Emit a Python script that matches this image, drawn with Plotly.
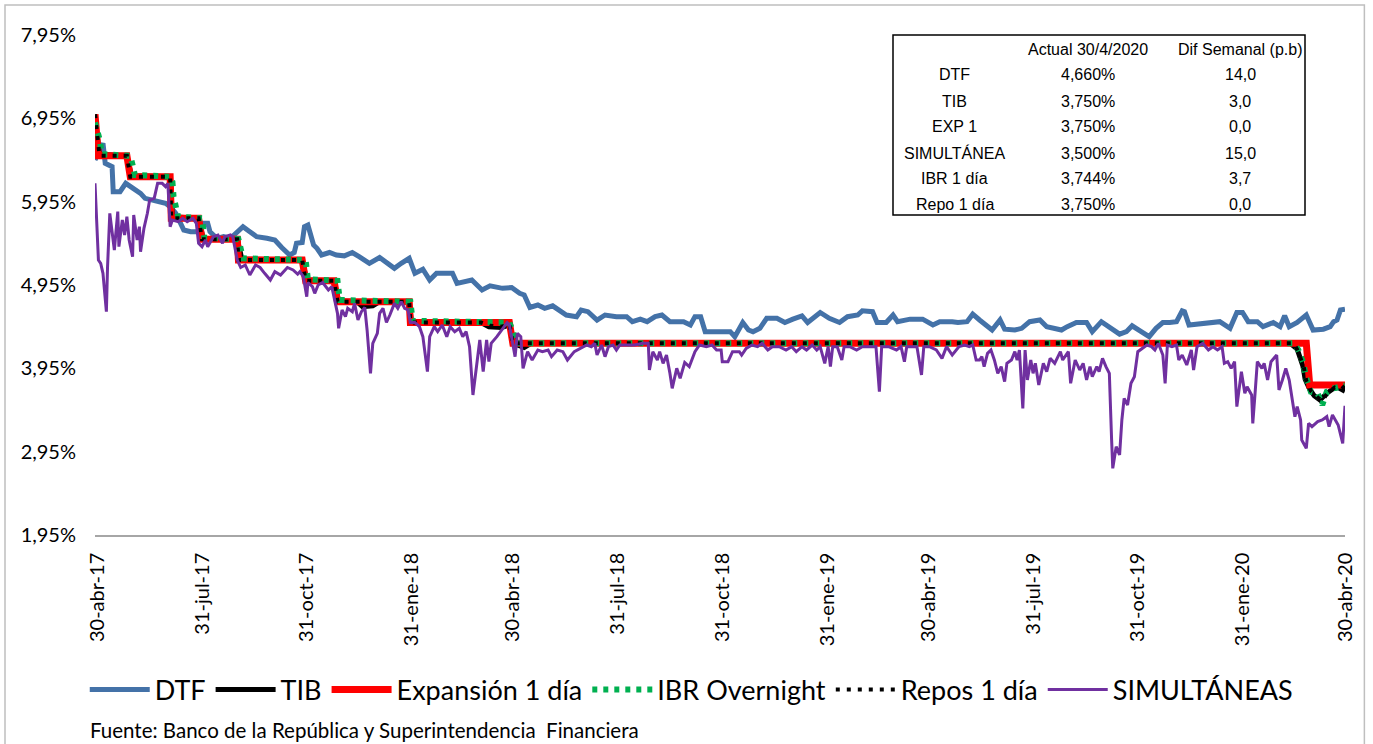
import plotly.graph_objects as go

# --- data (tasas en %) ---

# Expansión 1 día (tasa de política), cambios escalonados
EXP = [("2017-04-28", 7.00), ("2017-05-01", 6.50), ("2017-05-26", 6.50), ("2017-05-29", 6.25),
       ("2017-07-03", 6.25), ("2017-07-04", 5.75), ("2017-07-28", 5.75), ("2017-07-31", 5.50),
       ("2017-08-31", 5.50), ("2017-09-01", 5.25), ("2017-10-27", 5.25), ("2017-10-30", 5.00),
       ("2017-11-24", 5.00), ("2017-11-27", 4.75), ("2018-01-29", 4.75), ("2018-01-30", 4.50),
       ("2018-04-27", 4.50), ("2018-04-30", 4.25), ("2020-03-27", 4.25), ("2020-03-30", 3.75),
       ("2020-04-30", 3.75)]

TIB = [("2017-04-28", 6.95), ("2017-05-02", 6.52), ("2017-05-26", 6.50), ("2017-05-30", 6.26),
       ("2017-07-03", 6.25), ("2017-07-05", 5.77), ("2017-07-28", 5.75), ("2017-08-01", 5.51),
       ("2017-08-31", 5.50), ("2017-09-04", 5.26), ("2017-10-27", 5.25), ("2017-10-31", 5.01),
       ("2017-11-24", 5.00), ("2017-11-28", 4.76), ("2017-12-14", 4.75), ("2017-12-19", 4.69),
       ("2017-12-28", 4.70), ("2018-01-03", 4.75), ("2018-01-29", 4.74), ("2018-01-31", 4.51),
       ("2018-04-02", 4.50), ("2018-04-09", 4.45), ("2018-04-20", 4.44), ("2018-04-27", 4.47),
       ("2018-05-02", 4.24), ("2018-05-10", 4.20), ("2018-05-16", 4.25), ("2020-03-13", 4.25),
       ("2020-03-19", 4.18), ("2020-03-24", 3.98), ("2020-03-26", 3.82), ("2020-03-30", 3.70),
       ("2020-04-03", 3.62), ("2020-04-08", 3.57), ("2020-04-14", 3.65), ("2020-04-20", 3.71),
       ("2020-04-24", 3.72), ("2020-04-28", 3.69), ("2020-04-30", 3.75)]

IBR = [("2017-04-28", 6.90), ("2017-05-02", 6.70), ("2017-05-04", 6.52), ("2017-05-29", 6.50),
       ("2017-05-31", 6.39), ("2017-06-02", 6.27), ("2017-07-03", 6.25), ("2017-07-05", 6.19),
       ("2017-07-06", 6.01), ("2017-07-10", 5.77), ("2017-07-31", 5.75), ("2017-08-02", 5.52),
       ("2017-09-01", 5.50), ("2017-09-05", 5.27), ("2017-10-30", 5.25), ("2017-11-01", 5.02),
       ("2017-11-27", 5.00), ("2017-11-29", 4.77), ("2018-01-30", 4.75), ("2018-02-01", 4.52),
       ("2018-04-27", 4.50), ("2018-05-02", 4.30), ("2018-05-04", 4.25), ("2020-03-16", 4.25),
       ("2020-03-20", 4.17), ("2020-03-24", 4.03), ("2020-03-27", 3.83), ("2020-03-31", 3.67),
       ("2020-04-06", 3.65), ("2020-04-10", 3.51), ("2020-04-14", 3.67), ("2020-04-20", 3.71),
       ("2020-04-26", 3.74), ("2020-04-30", 3.744)]

REPOS = [("2017-04-28", 7.00), ("2017-05-02", 6.50), ("2017-05-26", 6.50), ("2017-05-29", 6.25),
         ("2017-07-03", 6.25), ("2017-07-04", 5.75), ("2017-07-28", 5.75), ("2017-07-31", 5.50),
         ("2017-08-31", 5.50), ("2017-09-01", 5.25), ("2017-10-27", 5.25), ("2017-10-30", 5.00),
         ("2017-11-24", 5.00), ("2017-11-27", 4.75), ("2018-01-29", 4.75), ("2018-01-30", 4.50),
         ("2018-04-02", 4.50), ("2018-04-10", 4.46), ("2018-04-20", 4.45), ("2018-04-27", 4.48),
         ("2018-04-30", 4.25), ("2020-03-16", 4.25), ("2020-03-20", 4.15), ("2020-03-25", 3.95),
         ("2020-03-27", 3.80), ("2020-03-31", 3.68), ("2020-04-06", 3.60), ("2020-04-10", 3.56),
         ("2020-04-15", 3.66), ("2020-04-21", 3.72), ("2020-04-27", 3.70), ("2020-04-30", 3.74)]

DTF = [("2017-04-28", 6.45), ("2017-05-05", 6.65), ("2017-05-07", 6.41), ("2017-05-13", 6.37),
       ("2017-05-14", 6.07), ("2017-05-20", 6.07), ("2017-05-25", 6.17), ("2017-05-31", 6.11),
       ("2017-06-07", 6.05), ("2017-06-11", 5.99), ("2017-06-18", 5.97), ("2017-06-23", 5.95),
       ("2017-06-29", 5.93), ("2017-07-03", 5.89), ("2017-07-08", 5.81), ("2017-07-15", 5.61),
       ("2017-07-21", 5.59), ("2017-07-27", 5.59), ("2017-07-31", 5.69), ("2017-08-05", 5.69),
       ("2017-08-07", 5.59), ("2017-08-13", 5.51), ("2017-08-19", 5.53), ("2017-08-25", 5.51),
       ("2017-09-01", 5.61), ("2017-09-05", 5.65), ("2017-09-11", 5.59), ("2017-09-17", 5.53),
       ("2017-09-26", 5.51), ("2017-10-03", 5.49), ("2017-10-09", 5.40), ("2017-10-16", 5.31),
       ("2017-10-20", 5.34), ("2017-10-22", 5.45), ("2017-10-27", 5.46), ("2017-10-29", 5.65),
       ("2017-11-01", 5.67), ("2017-11-06", 5.43), ("2017-11-09", 5.39), ("2017-11-13", 5.31),
       ("2017-11-20", 5.34), ("2017-11-26", 5.31), ("2017-12-03", 5.30), ("2017-12-10", 5.34),
       ("2017-12-16", 5.29), ("2017-12-25", 5.21), ("2018-01-03", 5.28), ("2018-01-10", 5.21),
       ("2018-01-16", 5.15), ("2018-01-22", 5.21), ("2018-01-29", 5.27), ("2018-02-03", 5.09),
       ("2018-02-10", 5.14), ("2018-02-16", 5.01), ("2018-02-22", 5.09), ("2018-03-08", 5.09),
       ("2018-03-12", 4.97), ("2018-03-25", 5.01), ("2018-04-03", 4.89), ("2018-04-10", 4.94),
       ("2018-04-21", 4.91), ("2018-04-29", 4.92), ("2018-05-06", 4.85), ("2018-05-10", 4.83),
       ("2018-05-15", 4.68), ("2018-05-22", 4.71), ("2018-05-28", 4.67), ("2018-06-04", 4.70),
       ("2018-06-10", 4.65), ("2018-06-16", 4.59), ("2018-06-25", 4.57), ("2018-06-29", 4.65),
       ("2018-07-05", 4.63), ("2018-07-13", 4.53), ("2018-07-20", 4.59), ("2018-07-30", 4.57),
       ("2018-08-08", 4.57), ("2018-08-13", 4.51), ("2018-08-20", 4.54), ("2018-08-26", 4.51),
       ("2018-09-02", 4.57), ("2018-09-08", 4.59), ("2018-09-15", 4.51), ("2018-09-27", 4.51),
       ("2018-10-03", 4.47), ("2018-10-07", 4.57), ("2018-10-12", 4.57), ("2018-10-16", 4.39),
       ("2018-10-27", 4.39), ("2018-11-07", 4.39), ("2018-11-11", 4.33), ("2018-11-18", 4.50),
       ("2018-11-23", 4.41), ("2018-11-27", 4.39), ("2018-12-03", 4.43), ("2018-12-09", 4.55),
       ("2018-12-18", 4.55), ("2018-12-25", 4.50), ("2019-01-01", 4.54), ("2019-01-09", 4.58),
       ("2019-01-14", 4.50), ("2019-01-25", 4.62), ("2019-02-02", 4.55), ("2019-02-11", 4.50),
       ("2019-02-18", 4.57), ("2019-02-27", 4.59), ("2019-03-03", 4.64), ("2019-03-12", 4.63),
       ("2019-03-16", 4.50), ("2019-03-24", 4.50), ("2019-03-30", 4.59), ("2019-04-03", 4.51),
       ("2019-04-14", 4.54), ("2019-04-25", 4.54), ("2019-05-04", 4.47), ("2019-05-10", 4.51),
       ("2019-05-21", 4.51), ("2019-05-26", 4.50), ("2019-06-03", 4.51), ("2019-06-08", 4.60),
       ("2019-06-14", 4.53), ("2019-06-25", 4.41), ("2019-07-02", 4.53), ("2019-07-06", 4.42),
       ("2019-07-15", 4.41), ("2019-07-21", 4.43), ("2019-07-28", 4.51), ("2019-08-06", 4.53),
       ("2019-08-12", 4.45), ("2019-08-25", 4.41), ("2019-08-30", 4.45), ("2019-09-07", 4.50),
       ("2019-09-16", 4.50), ("2019-09-21", 4.39), ("2019-09-29", 4.51), ("2019-10-05", 4.45),
       ("2019-10-15", 4.36), ("2019-10-21", 4.39), ("2019-10-26", 4.46), ("2019-11-03", 4.39),
       ("2019-11-10", 4.33), ("2019-11-16", 4.43), ("2019-11-22", 4.50), ("2019-11-28", 4.50),
       ("2019-12-04", 4.51), ("2019-12-09", 4.64), ("2019-12-11", 4.63), ("2019-12-15", 4.47),
       ("2019-12-24", 4.48), ("2020-01-02", 4.50), ("2020-01-11", 4.51), ("2020-01-20", 4.43),
       ("2020-01-26", 4.62), ("2020-01-31", 4.62), ("2020-02-05", 4.51), ("2020-02-13", 4.51),
       ("2020-02-18", 4.45), ("2020-02-27", 4.50), ("2020-03-04", 4.45), ("2020-03-08", 4.58),
       ("2020-03-12", 4.45), ("2020-03-19", 4.50), ("2020-03-27", 4.59), ("2020-04-02", 4.41),
       ("2020-04-11", 4.42), ("2020-04-17", 4.45), ("2020-04-20", 4.51), ("2020-04-23", 4.53),
       ("2020-04-26", 4.65), ("2020-04-30", 4.66)]

SIMUL = [("2017-04-28", 6.17), ("2017-05-01", 5.25), ("2017-05-03", 5.21), ("2017-05-05", 5.09),
         ("2017-05-08", 4.63), ("2017-05-09", 5.16), ("2017-05-11", 5.81), ("2017-05-14", 5.49),
         ("2017-05-15", 5.37), ("2017-05-18", 5.83), ("2017-05-19", 5.41), ("2017-05-22", 5.73),
         ("2017-05-24", 5.55), ("2017-05-26", 5.77), ("2017-05-28", 5.49), ("2017-05-31", 5.29),
         ("2017-06-01", 5.79), ("2017-06-04", 5.49), ("2017-06-06", 5.65), ("2017-06-07", 5.35),
         ("2017-06-10", 5.63), ("2017-06-13", 5.81), ("2017-06-15", 5.97), ("2017-06-19", 5.99),
         ("2017-06-22", 6.17), ("2017-06-26", 6.17), ("2017-06-29", 6.13), ("2017-07-01", 6.17),
         ("2017-07-03", 5.65), ("2017-07-05", 5.73), ("2017-07-10", 5.71), ("2017-07-14", 5.75),
         ("2017-07-18", 5.71), ("2017-07-23", 5.75), ("2017-07-26", 5.69), ("2017-07-28", 5.45),
         ("2017-07-31", 5.41), ("2017-08-03", 5.49), ("2017-08-05", 5.41), ("2017-08-10", 5.53),
         ("2017-08-14", 5.55), ("2017-08-18", 5.45), ("2017-08-20", 5.53), ("2017-08-25", 5.55),
         ("2017-08-27", 5.53), ("2017-08-31", 5.25), ("2017-09-03", 5.16), ("2017-09-07", 5.19),
         ("2017-09-11", 5.07), ("2017-09-16", 5.19), ("2017-09-20", 5.16), ("2017-09-24", 5.09),
         ("2017-09-29", 5.01), ("2017-10-03", 5.11), ("2017-10-08", 5.07), ("2017-10-14", 5.16),
         ("2017-10-19", 5.13), ("2017-10-23", 5.08), ("2017-10-25", 5.11), ("2017-10-28", 5.05),
         ("2017-10-31", 4.81), ("2017-11-01", 4.98), ("2017-11-05", 4.93), ("2017-11-07", 4.85),
         ("2017-11-10", 4.95), ("2017-11-14", 4.98), ("2017-11-19", 4.89), ("2017-11-22", 4.93),
         ("2017-11-24", 4.81), ("2017-11-27", 4.61), ("2017-11-28", 4.43), ("2017-12-01", 4.65),
         ("2017-12-04", 4.57), ("2017-12-06", 4.67), ("2017-12-10", 4.63), ("2017-12-12", 4.73),
         ("2017-12-15", 4.53), ("2017-12-18", 4.63), ("2017-12-21", 4.68), ("2017-12-23", 4.41),
         ("2017-12-26", 3.89), ("2017-12-28", 4.25), ("2018-01-01", 4.37), ("2018-01-03", 4.61),
         ("2018-01-06", 4.67), ("2018-01-09", 4.50), ("2018-01-12", 4.59), ("2018-01-16", 4.73),
         ("2018-01-19", 4.67), ("2018-01-22", 4.75), ("2018-01-25", 4.67), ("2018-01-28", 4.65),
         ("2018-01-30", 4.50), ("2018-02-03", 4.50), ("2018-02-07", 4.45), ("2018-02-10", 4.33),
         ("2018-02-14", 3.91), ("2018-02-16", 4.33), ("2018-02-20", 4.45), ("2018-02-23", 4.39),
         ("2018-02-27", 4.47), ("2018-03-03", 4.33), ("2018-03-06", 4.45), ("2018-03-10", 4.39),
         ("2018-03-14", 4.43), ("2018-03-17", 4.33), ("2018-03-20", 4.39), ("2018-03-23", 4.21),
         ("2018-03-26", 3.63), ("2018-03-29", 3.97), ("2018-04-01", 4.29), ("2018-04-04", 3.91),
         ("2018-04-07", 4.29), ("2018-04-09", 4.03), ("2018-04-11", 4.25), ("2018-04-16", 4.33),
         ("2018-04-20", 4.41), ("2018-04-25", 4.50), ("2018-04-27", 4.47), ("2018-04-30", 4.23),
         ("2018-05-02", 4.09), ("2018-05-04", 4.37), ("2018-05-07", 4.33), ("2018-05-09", 3.95),
         ("2018-05-13", 4.15), ("2018-05-17", 4.05), ("2018-05-22", 4.17), ("2018-05-26", 4.15),
         ("2018-05-31", 4.17), ("2018-06-03", 4.09), ("2018-06-08", 4.17), ("2018-06-13", 4.15),
         ("2018-06-17", 4.05), ("2018-06-23", 4.15), ("2018-06-29", 4.19), ("2018-07-04", 4.23),
         ("2018-07-08", 4.21), ("2018-07-11", 4.25), ("2018-07-13", 4.11), ("2018-07-17", 4.23),
         ("2018-07-20", 4.09), ("2018-07-23", 4.21), ("2018-07-27", 4.23), ("2018-07-30", 4.17),
         ("2018-08-02", 4.23), ("2018-08-08", 4.23), ("2018-08-15", 4.23), ("2018-08-22", 4.25),
         ("2018-08-27", 4.25), ("2018-08-28", 3.93), ("2018-08-31", 4.15), ("2018-09-04", 4.05),
         ("2018-09-06", 4.15), ("2018-09-09", 4.01), ("2018-09-12", 4.11), ("2018-09-15", 3.89),
         ("2018-09-17", 3.71), ("2018-09-21", 3.95), ("2018-09-24", 3.83), ("2018-09-28", 4.02),
         ("2018-10-02", 3.97), ("2018-10-07", 4.15), ("2018-10-11", 4.23), ("2018-10-17", 4.21),
         ("2018-10-22", 4.23), ("2018-10-26", 4.17), ("2018-10-30", 4.17), ("2018-10-31", 4.03),
         ("2018-11-05", 4.03), ("2018-11-09", 4.15), ("2018-11-15", 4.15), ("2018-11-17", 4.11),
         ("2018-11-21", 4.19), ("2018-11-26", 4.23), ("2018-12-01", 4.21), ("2018-12-05", 4.25),
         ("2018-12-10", 4.17), ("2018-12-14", 4.21), ("2018-12-20", 4.21), ("2018-12-26", 4.17),
         ("2018-12-31", 4.21), ("2019-01-04", 4.15), ("2019-01-09", 4.21), ("2019-01-13", 4.17),
         ("2019-01-18", 4.23), ("2019-01-22", 4.17), ("2019-01-25", 4.21), ("2019-01-29", 4.01),
         ("2019-02-01", 4.21), ("2019-02-03", 3.97), ("2019-02-05", 4.21), ("2019-02-09", 4.21),
         ("2019-02-13", 4.05), ("2019-02-15", 4.21), ("2019-02-20", 4.21), ("2019-02-26", 4.17),
         ("2019-03-03", 4.21), ("2019-03-09", 4.21), ("2019-03-15", 4.21), ("2019-03-18", 3.67),
         ("2019-03-20", 4.21), ("2019-03-26", 4.21), ("2019-04-02", 4.17), ("2019-04-06", 4.21),
         ("2019-04-09", 4.03), ("2019-04-11", 4.21), ("2019-04-17", 4.21), ("2019-04-20", 4.21),
         ("2019-04-24", 3.87), ("2019-04-26", 4.21), ("2019-05-01", 4.21), ("2019-05-07", 4.17),
         ("2019-05-12", 4.07), ("2019-05-16", 4.21), ("2019-05-21", 4.11), ("2019-05-27", 4.21),
         ("2019-06-01", 4.23), ("2019-06-05", 4.21), ("2019-06-08", 4.23), ("2019-06-11", 4.05),
         ("2019-06-14", 4.05), ("2019-06-16", 4.09), ("2019-06-18", 3.97), ("2019-06-21", 4.13),
         ("2019-06-24", 4.17), ("2019-06-27", 4.05), ("2019-06-30", 3.89), ("2019-07-03", 3.97),
         ("2019-07-06", 3.79), ("2019-07-08", 4.01), ("2019-07-12", 4.05), ("2019-07-15", 4.15),
         ("2019-07-17", 4.05), ("2019-07-19", 4.17), ("2019-07-22", 3.47), ("2019-07-24", 4.17),
         ("2019-07-26", 3.81), ("2019-07-29", 4.05), ("2019-07-31", 3.89), ("2019-08-02", 4.01),
         ("2019-08-05", 3.75), ("2019-08-09", 4.01), ("2019-08-12", 3.91), ("2019-08-15", 4.07),
         ("2019-08-19", 4.01), ("2019-08-24", 4.15), ("2019-08-26", 4.05), ("2019-08-31", 4.15),
         ("2019-09-02", 3.77), ("2019-09-06", 4.05), ("2019-09-10", 3.93), ("2019-09-13", 4.01),
         ("2019-09-16", 3.81), ("2019-09-19", 3.97), ("2019-09-21", 3.85), ("2019-09-25", 3.97),
         ("2019-09-27", 3.91), ("2019-09-30", 4.07), ("2019-10-03", 3.97), ("2019-10-06", 3.89),
         ("2019-10-08", 3.09), ("2019-10-09", 2.75), ("2019-10-12", 3.01), ("2019-10-15", 2.91),
         ("2019-10-17", 3.33), ("2019-10-19", 3.59), ("2019-10-22", 3.51), ("2019-10-25", 3.77),
         ("2019-10-28", 3.85), ("2019-10-31", 4.15), ("2019-11-08", 4.23), ("2019-11-12", 4.21),
         ("2019-11-15", 4.17), ("2019-11-18", 4.25), ("2019-11-22", 4.11), ("2019-11-24", 3.77),
         ("2019-11-26", 4.23), ("2019-11-30", 4.21), ("2019-12-04", 4.23), ("2019-12-06", 4.05),
         ("2019-12-09", 4.11), ("2019-12-13", 3.99), ("2019-12-17", 4.17), ("2019-12-19", 3.93),
         ("2019-12-22", 4.21), ("2019-12-27", 4.25), ("2020-01-01", 4.17), ("2020-01-05", 4.21),
         ("2020-01-09", 4.17), ("2020-01-13", 4.21), ("2020-01-15", 4.01), ("2020-01-18", 4.03),
         ("2020-01-21", 3.95), ("2020-01-24", 4.03), ("2020-01-26", 3.49), ("2020-01-30", 3.91),
         ("2020-02-02", 3.65), ("2020-02-04", 3.73), ("2020-02-08", 3.63), ("2020-02-09", 3.29),
         ("2020-02-11", 3.65), ("2020-02-13", 4.03), ("2020-02-17", 3.95), ("2020-02-19", 4.01),
         ("2020-02-22", 3.81), ("2020-02-25", 4.03), ("2020-03-01", 4.11), ("2020-03-03", 3.69),
         ("2020-03-06", 3.81), ("2020-03-09", 3.95), ("2020-03-12", 3.81), ("2020-03-14", 3.63),
         ("2020-03-17", 3.37), ("2020-03-19", 3.49), ("2020-03-22", 3.33), ("2020-03-23", 3.09),
         ("2020-03-27", 2.99), ("2020-03-29", 3.29), ("2020-04-01", 3.25), ("2020-04-06", 3.31),
         ("2020-04-10", 3.33), ("2020-04-14", 3.37), ("2020-04-16", 3.25), ("2020-04-19", 3.39),
         ("2020-04-22", 3.31), ("2020-04-24", 3.27), ("2020-04-28", 3.05), ("2020-04-30", 3.50)]

# eje x
tick_dates = ["2017-04-30", "2017-07-31", "2017-10-31", "2018-01-31", "2018-04-30", "2018-07-31",
              "2018-10-31", "2019-01-31", "2019-04-30", "2019-07-31", "2019-10-31", "2020-01-31",
              "2020-04-30"]
tick_labels = ["30-abr-17", "31-jul-17", "31-oct-17", "31-ene-18", "30-abr-18", "31-jul-18",
               "31-oct-18", "31-ene-19", "30-abr-19", "31-jul-19", "31-oct-19", "31-ene-20",
               "30-abr-20"]

# tabla resumen
table_names = ["DTF", "TIB", "EXP 1", "SIMULTÁNEA", "IBR 1 día", "Repo 1 día"]
table_actual = ["4,660%", "3,750%", "3,750%", "3,500%", "3,744%", "3,750%"]
table_dif = ["14,0", "3,0", "0,0", "15,0", "3,7", "0,0"]

FONT = "Lato, Carlito, Noto Sans, sans-serif"
NARROW = "Liberation Sans Narrow, Arial Narrow, Liberation Sans, sans-serif"


def xy(pairs):
    return [p[0] for p in pairs], [p[1] for p in pairs]


fig = go.Figure()

series = [
    ("DTF", DTF, dict(color="#4472A8", width=5)),
    ("TIB", TIB, dict(color="#000000", width=5)),
    ("Expansión 1 día", EXP, dict(color="#FF0000", width=7)),
    ("IBR Overnight", IBR, dict(color="#00B050", width=6, dash="5px,6px")),
    ("Repos 1 día", REPOS, dict(color="#000000", width=4, dash="4px,7px")),
    ("SIMULTÁNEAS", SIMUL, dict(color="#7030A0", width=3)),
]
for name, pairs, line in series:
    x, y = xy(pairs)
    fig.add_trace(go.Scatter(x=x, y=y, mode="lines", name=name, line=line))

# tabla en la esquina superior derecha
fig.add_shape(type="rect", xref="paper", yref="paper", x0=0.6384, x1=0.968, y0=0.64, y1=1.0,
              line=dict(color="black", width=1.5), fillcolor="white", layer="above")
row_y = [0.92 - 0.052 * i for i in range(len(table_names))]
head_y = 0.972
col_x = [0.688, 0.7944, 0.916]
tfont = dict(family=NARROW, size=16, color="black")
for txt, xx in (("Actual 30/4/2020", col_x[1]), ("Dif Semanal (p.b)", col_x[2])):
    fig.add_annotation(x=xx, y=head_y, xref="paper", yref="paper", text=txt, showarrow=False,
                       xanchor="center", yanchor="middle", font=tfont)
for name, act, dif, yy in zip(table_names, table_actual, table_dif, row_y):
    for txt, xx in zip((name, act, dif), col_x):
        fig.add_annotation(x=xx, y=yy, xref="paper", yref="paper", text=txt, showarrow=False,
                           xanchor="center", yanchor="middle", font=tfont)

# fuente
fig.add_annotation(x=-0.0056, y=-0.39, xref="paper", yref="paper", xanchor="left",
                   yanchor="middle", showarrow=False,
                   text="Fuente: Banco de la República y Superintendencia  Financiera",
                   font=dict(family=FONT, size=20.5, color="black"))

# marco exterior
fig.add_shape(type="rect", xref="paper", yref="paper", x0=-0.072, x1=1.0155, y0=-0.42, y1=1.06,
              line=dict(color="#BFBFBF", width=1.5))

fig.update_layout(
    width=1373, height=744,
    margin=dict(l=95, r=28, t=35, b=209),
    paper_bgcolor="white", plot_bgcolor="white",
    separators=",.",
    font=dict(family=FONT, color="black"),
    showlegend=True,
    legend=dict(orientation="h", x=0.477, xanchor="center", y=-0.31, yanchor="middle",
                itemwidth=60, font=dict(family=FONT, size=27, color="black"),
                bgcolor="rgba(0,0,0,0)"),
    xaxis=dict(type="date", range=["2017-04-28", "2020-04-30"], tickvals=tick_dates,
               ticktext=tick_labels, tickangle=-90, tickfont=dict(family=FONT, size=20),
               showgrid=False, zeroline=False, showline=True, linecolor="#A6A6A6", linewidth=1.5,
               ticks="", ticklabelstandoff=8),
    yaxis=dict(range=[1.95, 7.95], tick0=1.95, dtick=1, tickformat=".2f", ticksuffix="%",
               tickfont=dict(family=FONT, size=20), showgrid=False, zeroline=False,
               showline=False, ticks="", ticklabelstandoff=18),
)

# sin margen del body para que la figura ocupe la ventana exacta
fig.write_html("out.html", config={"displayModeBar": False},
               post_script="document.body.style.margin='0';")
